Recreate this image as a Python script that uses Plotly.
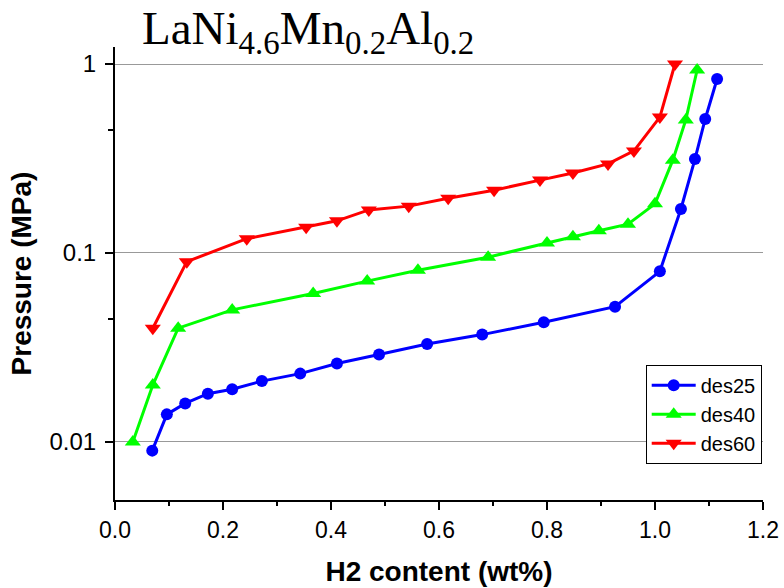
import plotly.graph_objects as go

# ---- data ----
des25_x = [0.069, 0.096, 0.130, 0.172, 0.217, 0.272, 0.343, 0.411, 0.489, 0.578, 0.680, 0.794, 0.926, 1.009, 1.048, 1.074, 1.093, 1.115]
des25_y = [0.0090, 0.014, 0.016, 0.018, 0.019, 0.021, 0.023, 0.026, 0.029, 0.033, 0.037, 0.043, 0.052, 0.080, 0.171, 0.314, 0.512, 0.833]

des40_x = [0.033, 0.070, 0.117, 0.217, 0.367, 0.467, 0.561, 0.691, 0.800, 0.848, 0.896, 0.950, 1.000, 1.033, 1.057, 1.078]
des40_y = [0.010, 0.020, 0.040, 0.050, 0.061, 0.071, 0.081, 0.095, 0.113, 0.122, 0.131, 0.142, 0.182, 0.310, 0.506, 0.93]

des60_x = [0.070, 0.133, 0.244, 0.354, 0.411, 0.470, 0.544, 0.617, 0.702, 0.787, 0.848, 0.913, 0.961, 1.009, 1.037]
des60_y = [0.040, 0.090, 0.119, 0.137, 0.148, 0.169, 0.177, 0.195, 0.215, 0.243, 0.265, 0.296, 0.347, 0.524, 1.0]

x_ticks = [0.0, 0.2, 0.4, 0.6, 0.8, 1.0, 1.2]
x_tick_text = ["0.0", "0.2", "0.4", "0.6", "0.8", "1.0", "1.2"]
y_ticks = [0.01, 0.1, 1]
y_tick_text = ["0.01", "0.1", "1"]
y_minor = [0.0447, 0.447]

fig = go.Figure()
series = [
    ("des25", des25_x, des25_y, "#0000FF", "circle", 12),
    ("des40", des40_x, des40_y, "#00FF00", "triangle-up", 14),
    ("des60", des60_x, des60_y, "#FF0000", "triangle-down", 14),
]
for name, xs, ys, col, sym, sz in series:
    fig.add_trace(go.Scatter(
        x=xs, y=ys, name=name, mode="lines+markers",
        line=dict(color=col, width=3),
        marker=dict(color=col, symbol=sym, size=sz, line=dict(width=0)),
    ))

fig.update_layout(
    width=784, height=588,
    margin=dict(l=115, r=21, t=47, b=88),
    paper_bgcolor="white", plot_bgcolor="white",
    font=dict(family="Liberation Sans, Arial", color="black"),
    showlegend=True,
    legend=dict(
        x=0.998, xanchor="right", y=0.08, yanchor="bottom",
        bordercolor="black", borderwidth=1, bgcolor="white",
        font=dict(size=20, family="Liberation Sans, Arial"),
        tracegroupgap=0, itemwidth=44,
    ),
    annotations=[dict(
        text="LaNi<sub>4.6</sub>Mn<sub>0.2</sub>Al<sub>0.2</sub>",
        xref="paper", yref="paper", x=0.038, y=1.0, xanchor="left", yanchor="bottom",
        yshift=-16, showarrow=False,
        font=dict(family="Liberation Serif, Times New Roman", size=47, color="black"),
    )],
)

fig.update_xaxes(
    range=[0, 1.2], tickvals=x_ticks, ticktext=x_tick_text,
    showline=True, linecolor="black", linewidth=2,
    ticks="outside", ticklen=8, tickwidth=1.5, tickcolor="black",
    minor=dict(dtick=0.1, ticks="outside", ticklen=4, tickwidth=1.5, tickcolor="black", showgrid=False),
    showgrid=False, zeroline=False, automargin=False,
    tickfont=dict(size=23),
    title=dict(text="<b>H2 content (wt%)</b>", font=dict(size=28), standoff=20),
)
fig.update_yaxes(
    type="log", range=[-2.307, 0.09],
    tickvals=y_ticks, ticktext=y_tick_text,
    showline=True, linecolor="black", linewidth=2,
    ticks="outside", ticklen=8, tickwidth=1.5, tickcolor="black",
    ticklabelstandoff=4, automargin=False,
    minor=dict(tickvals=y_minor, ticks="outside", ticklen=5, tickwidth=1.5, tickcolor="black", showgrid=False),
    showgrid=True, gridcolor="#999999", gridwidth=1, zeroline=False,
    tickfont=dict(size=24),
    title=dict(text="<b>Pressure (MPa)</b>", font=dict(size=28), standoff=10),
)

fig.write_html("out.html")
